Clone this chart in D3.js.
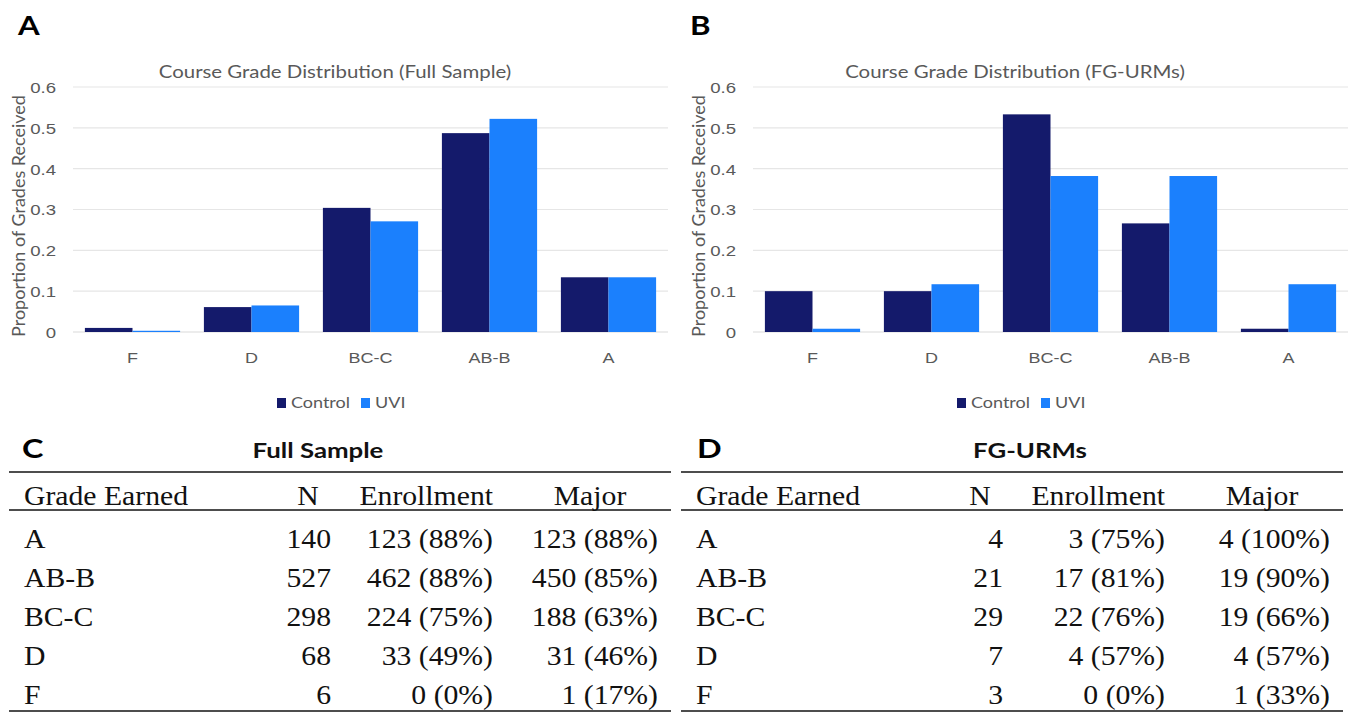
<!DOCTYPE html>
<html>
<head>
<meta charset="utf-8">
<script src="https://cdn.jsdelivr.net/npm/d3@7"></script>
<style>
body { margin: 0; background: #fff; }
svg { display: block; }
.sans { font-family: Lato, "Open Sans", sans-serif; }
.serif { font-family: "Liberation Serif", "Times New Roman", serif; }
</style>
</head>
<body>
<svg id="fig" width="1350" height="713"></svg>
<script>
// chart data
var grades = ["F", "D", "BC-C", "AB-B", "A"];
var seriesNames = ["Control", "UVI"];
var fullControl = [0.010, 0.061, 0.304, 0.487, 0.134];
var fullUVI = [0.003, 0.065, 0.271, 0.522, 0.134];
var fgControl = [0.100, 0.100, 0.533, 0.266, 0.008];
var fgUVI = [0.008, 0.117, 0.382, 0.382, 0.117];
var yTicks = [0, 0.1, 0.2, 0.3, 0.4, 0.5, 0.6];

// table data
var tableHeaders = ["Grade Earned", "N", "Enrollment", "Major"];
var tableGrades = ["A", "AB-B", "BC-C", "D", "F"];
var fullN = [140, 527, 298, 68, 6];
var fullEnroll = ["123 (88%)", "462 (88%)", "224 (75%)", "33 (49%)", "0 (0%)"];
var fullMajor = ["123 (88%)", "450 (85%)", "188 (63%)", "31 (46%)", "1 (17%)"];
var fgN = [4, 21, 29, 7, 3];
var fgEnroll = ["3 (75%)", "17 (81%)", "22 (76%)", "4 (57%)", "0 (0%)"];
var fgMajor = ["4 (100%)", "19 (90%)", "19 (66%)", "4 (57%)", "1 (33%)"];

var colors = {Control: "#141a6b", UVI: "#1b80fd"};
// the source figure is stretched sideways, text included
var SX = 1.2, SXT = 1.1;

function st(x, y, s) {
    return "translate(" + x + "," + y + ") scale(" + (s || SX) + ",1)";
}

var svg = d3.select("#fig");

function drawChart(ox, letter, letterX, title, control, uvi) {
    var g = svg.append("g").attr("class", "sans").attr("transform", "translate(" + ox + ",0)");
    var rows = grades.map(function(gr, i) {
        return {grade: gr, Control: control[i], UVI: uvi[i]};
    });

    var x = d3.scaleBand().domain(grades).range([73, 668])
        .paddingInner(0.2).paddingOuter(0.1);
    var x1 = d3.scaleBand().domain(seriesNames).range([0, x.bandwidth()]);
    var y = d3.scaleLinear().domain([0, 0.6]).range([332, 87]);

    g.append("text")
        .attr("transform", st(letterX, 35))
        .attr("font-size", 26).attr("font-weight", 700).attr("fill", "#000")
        .text(letter);

    g.append("text")
        .attr("transform", st(335, 78))
        .attr("text-anchor", "middle")
        .attr("font-size", 17).attr("fill", "#595959")
        .text(title);

    g.selectAll("line.grid")
        .data(yTicks)
        .enter().append("line")
        .attr("class", "grid")
        .attr("x1", 73).attr("x2", 668)
        .attr("y1", function(d) { return y(d); })
        .attr("y2", function(d) { return y(d); })
        .attr("stroke", function(d) { return d === 0 ? "#d9d9d9" : "#e6e6e6"; })
        .attr("stroke-width", 1.2);

    var yAxis = g.append("g")
        .call(d3.axisLeft(y).tickValues(yTicks).tickSize(0)
            .tickFormat(function(d) { return d === 0 ? "0" : d3.format(".1f")(d); }));
    yAxis.select(".domain").remove();
    yAxis.selectAll(".tick text")
        .attr("x", null).attr("dy", "0.35em")
        .attr("transform", st(56, 0))
        .attr("font-family", null).attr("font-size", 15.5).attr("fill", "#595959");

    var groups = g.selectAll("g.grade")
        .data(rows)
        .enter().append("g")
        .attr("class", "grade")
        .attr("transform", function(d) { return "translate(" + x(d.grade) + ",0)"; });
    groups.selectAll("rect")
        .data(function(d) { return seriesNames.map(function(s) { return {key: s, value: d[s]}; }); })
        .enter().append("rect")
        .attr("x", function(d) { return x1(d.key); })
        .attr("width", x1.bandwidth())
        .attr("y", function(d) { return y(d.value); })
        .attr("height", function(d) { return y(0) - y(d.value); })
        .attr("fill", function(d) { return colors[d.key]; });

    var xAxis = g.append("g")
        .attr("transform", "translate(0," + y(0) + ")")
        .call(d3.axisBottom(x).tickSize(0));
    xAxis.select(".domain").remove();
    xAxis.selectAll(".tick text")
        .attr("y", null).attr("dy", null)
        .attr("transform", st(0, 31))
        .attr("font-family", null).attr("font-size", 15).attr("fill", "#595959");

    g.append("text")
        .attr("transform", st(19, 216, 1) + " rotate(-90)")
        .attr("text-anchor", "middle").attr("dy", "0.35em")
        .attr("font-size", 18).attr("fill", "#595959")
        .text("Proportion of Grades Received");

    var legend = g.selectAll("g.legend")
        .data(seriesNames)
        .enter().append("g")
        .attr("class", "legend")
        .attr("transform", function(d, i) { return "translate(" + [277, 361][i] + ",0)"; });
    legend.append("rect")
        .attr("x", 0).attr("y", 398).attr("width", 9).attr("height", 10)
        .attr("fill", function(d) { return colors[d]; });
    legend.append("text")
        .attr("transform", st(14, 408))
        .attr("font-size", 15).attr("fill", "#595959")
        .text(function(d) { return d; });
}

function drawTable(ox, letter, letterX, title, titleX, nVals, enrollVals, majorVals) {
    var g = svg.append("g").attr("transform", "translate(" + ox + ",0)");
    var yRow = d3.scalePoint().domain(tableGrades).range([548, 704]);

    g.append("text")
        .attr("class", "sans")
        .attr("transform", st(letterX, 458))
        .attr("font-size", 27).attr("font-weight", 700).attr("fill", "#000")
        .text(letter);
    g.append("text")
        .attr("class", "sans")
        .attr("transform", st(titleX, 458))
        .attr("text-anchor", "middle")
        .attr("font-size", 21.5).attr("font-weight", 700).attr("fill", "#111")
        .text(title);

    g.selectAll("line.rule")
        .data([472, 510, 711])
        .enter().append("line")
        .attr("class", "rule")
        .attr("x1", 9).attr("x2", 671)
        .attr("y1", function(d) { return d; })
        .attr("y2", function(d) { return d; })
        .attr("stroke", "#4d4d4d").attr("stroke-width", 2);

    var headerPos = [[24, "start"], [308, "middle"], [493, "end"], [590, "middle"]];
    g.selectAll("text.head")
        .data(tableHeaders)
        .enter().append("text")
        .attr("class", "head serif")
        .attr("transform", function(d, i) { return st(headerPos[i][0], 505, SXT); })
        .attr("text-anchor", function(d, i) { return headerPos[i][1]; })
        .attr("font-size", 27).attr("fill", "#111")
        .text(function(d) { return d; });

    var columns = [
        {x: 24, anchor: "start", values: tableGrades},
        {x: 331, anchor: "end", values: nVals},
        {x: 493, anchor: "end", values: enrollVals},
        {x: 658, anchor: "end", values: majorVals}
    ];
    columns.forEach(function(col) {
        g.selectAll(null)
            .data(col.values)
            .enter().append("text")
            .attr("class", "serif")
            .attr("transform", function(d, i) { return st(col.x, yRow(tableGrades[i]), SXT); })
            .attr("text-anchor", col.anchor)
            .attr("font-size", 27).attr("fill", "#111")
            .text(function(d) { return d; });
    });
}

drawChart(0, "A", 18, "Course Grade Distribution (Full Sample)", fullControl, fullUVI);
drawChart(680, "B", 10, "Course Grade Distribution (FG-URMs)", fgControl, fgUVI);
drawTable(0, "C", 22, "Full Sample", 318, fullN, fullEnroll, fullMajor);
drawTable(672, "D", 25, "FG-URMs", 358, fgN, fgEnroll, fgMajor);
</script>
</body>
</html>
